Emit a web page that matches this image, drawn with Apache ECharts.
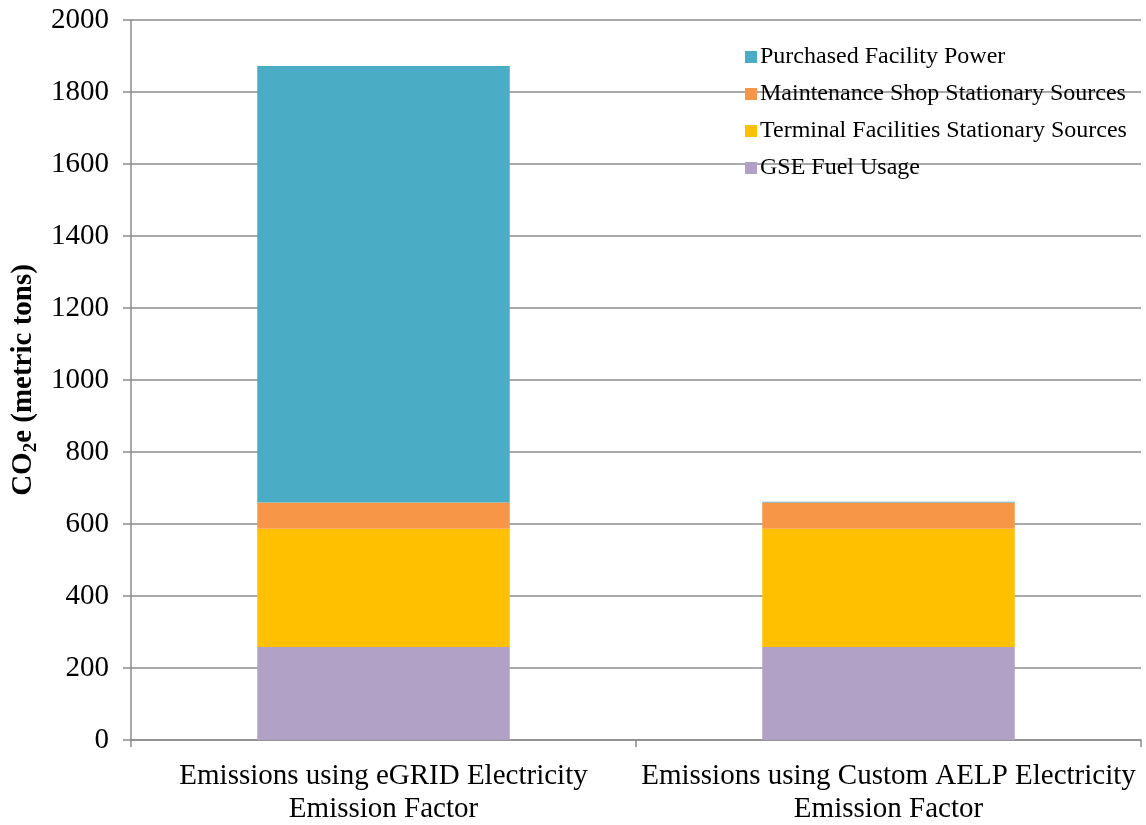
<!DOCTYPE html>
<html>
<head>
<meta charset="utf-8">
<script src="https://cdn.jsdelivr.net/npm/echarts@6/dist/echarts.min.js"></script>
<style>
  html, body { margin: 0; padding: 0; background: #fff; }
  #chart { width: 1146px; height: 825px; }
</style>
</head>
<body>
<div id="chart"></div>
<script>
const categories = [
  'Emissions using eGRID Electricity\nEmission Factor',
  'Emissions using Custom AELP Electricity\nEmission Factor'
]
const gseFuel = [258, 258]
const terminalFacilities = [329, 329]
const maintenanceShop = [73, 73]
const purchasedPower = [1212, 2]
const yTicks = [0, 200, 400, 600, 800, 1000, 1200, 1400, 1600, 1800, 2000]

const font = '"Liberation Serif", "Times New Roman", serif'
const chart = echarts.init(document.getElementById('chart'))

const bar = (name, data, color) => ({
  name,
  type: 'bar',
  stack: 'total',
  data,
  barWidth: '50%',
  itemStyle: { color },
  emphasis: { disabled: true }
})

chart.setOption({
  animation: false,
  textStyle: { fontFamily: font },
  grid: { left: 131, right: 5, top: 20, bottom: 85, containLabel: false, outerBoundsMode: 'none' },
  legend: {
    orient: 'vertical',
    left: 740,
    top: 40,
    itemWidth: 12,
    itemHeight: 12,
    itemGap: 13,
    icon: 'rect',
    data: ['Purchased Facility Power', 'Maintenance Shop Stationary Sources',
           'Terminal Facilities Stationary Sources', 'GSE Fuel Usage'],
    textStyle: { fontFamily: font, fontSize: 24, color: '#000', padding: [0, 0, 0, -2] }
  },
  xAxis: {
    type: 'category',
    data: categories,
    axisLine: { lineStyle: { color: '#8c8c8c', width: 1.5 } },
    axisTick: { show: true, length: 7, alignWithLabel: false, lineStyle: { color: '#8c8c8c', width: 1.5 } },
    axisLabel: { interval: 0, hideOverlap: false, fontFamily: font, fontSize: 29, color: '#000', lineHeight: 33, margin: 20 }
  },
  yAxis: {
    type: 'value',
    min: yTicks[0],
    max: yTicks[yTicks.length - 1],
    interval: 200,
    name: '{a|CO}{s|2}{a|e (metric tons)}',
    nameLocation: 'middle',
    nameGap: 87,
    nameTextStyle: {
      rich: {
        a: { fontFamily: font, fontSize: 29, fontWeight: 'bold', color: '#000', lineHeight: 34 },
        s: { fontFamily: font, fontSize: 19, fontWeight: 'bold', color: '#000', lineHeight: 19, verticalAlign: 'bottom' }
      }
    },
    axisLine: { show: true, lineStyle: { color: '#8c8c8c', width: 1.5 } },
    axisTick: { show: true, length: 8, lineStyle: { color: '#8c8c8c', width: 1.5 } },
    axisLabel: { fontFamily: font, fontSize: 29, color: '#000', margin: 22, formatter: v => String(v) },
    splitLine: { lineStyle: { color: '#8c8c8c', width: 1.5 } }
  },
  series: [
    bar('GSE Fuel Usage', gseFuel, '#B2A1C7'),
    bar('Terminal Facilities Stationary Sources', terminalFacilities, '#FFC000'),
    bar('Maintenance Shop Stationary Sources', maintenanceShop, '#F79646'),
    bar('Purchased Facility Power', purchasedPower, '#4BACC6')
  ]
})
window.addEventListener('resize', () => chart.resize())
</script>
</body>
</html>
